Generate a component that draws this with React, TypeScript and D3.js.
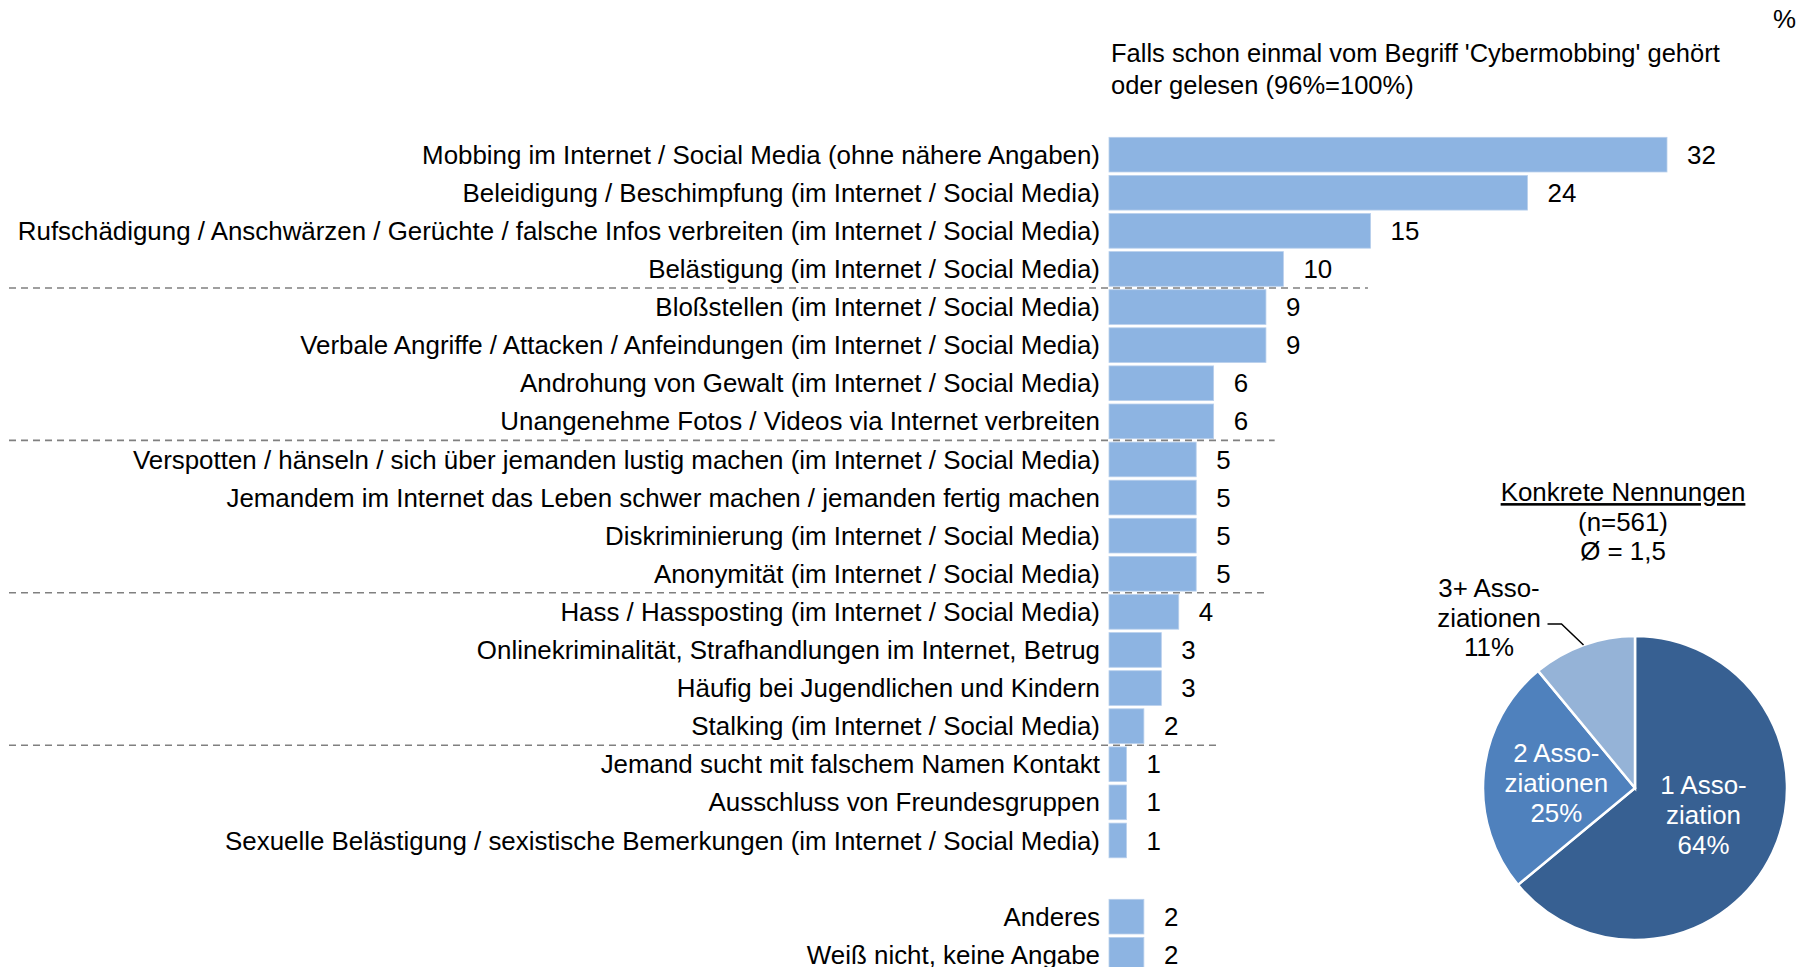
import React from 'react';
import * as d3 from 'd3';

// bar rows (top group), in the order shown
const rowLabels = [
  'Mobbing im Internet / Social Media (ohne nähere Angaben)',
  'Beleidigung / Beschimpfung (im Internet / Social Media)',
  'Rufschädigung / Anschwärzen / Gerüchte / falsche Infos verbreiten (im Internet / Social Media)',
  'Belästigung (im Internet / Social Media)',
  'Bloßstellen (im Internet / Social Media)',
  'Verbale Angriffe / Attacken / Anfeindungen (im Internet / Social Media)',
  'Androhung von Gewalt (im Internet / Social Media)',
  'Unangenehme Fotos / Videos via Internet verbreiten',
  'Verspotten / hänseln / sich über jemanden lustig machen (im Internet / Social Media)',
  'Jemandem im Internet das Leben schwer machen / jemanden fertig machen',
  'Diskriminierung (im Internet / Social Media)',
  'Anonymität (im Internet / Social Media)',
  'Hass / Hassposting (im Internet / Social Media)',
  'Onlinekriminalität, Strafhandlungen im Internet, Betrug',
  'Häufig bei Jugendlichen und Kindern',
  'Stalking (im Internet / Social Media)',
  'Jemand sucht mit falschem Namen Kontakt',
  'Ausschluss von Freundesgruppen',
  'Sexuelle Belästigung / sexistische Bemerkungen (im Internet / Social Media)',
];
const rowValues = [32, 24, 15, 10, 9, 9, 6, 6, 5, 5, 5, 5, 4, 3, 3, 2, 1, 1, 1];

const extraLabels = ['Anderes', 'Weiß nicht, keine Angabe'];
const extraValues = [2, 2];

// dashed separators: after which row, and how far (in % units) they reach
const separatorAfter = [3, 7, 11, 15];
const separatorReach = [14.85, 9.5, 9.05, 6.4];

const titleLines = ["Falls schon einmal vom Begriff 'Cybermobbing' gehört", 'oder gelesen (96%=100%)'];

const pieTitle = ['Konkrete Nennungen', '(n=561)', 'Ø = 1,5'];
const pieValues = [64, 25, 11];
const pieLabels = [
  ['1 Asso-', 'ziation', '64%'],
  ['2 Asso-', 'ziationen', '25%'],
  ['3+ Asso-', 'ziationen', '11%'],
];
const pieColors = ['#376092', '#4F81BD', '#95B3D7'];

const W = 1810;
const H = 967;
const FONT = '"Liberation Sans", Arial, sans-serif';
const FS = 25.9;

export default function App() {
  const allLabels = [...rowLabels, '__gap', ...extraLabels];
  const allValues = [...rowValues, 0, ...extraValues];

  const y = d3.scaleBand<string>()
    .domain(allLabels)
    .range([135.6, 135.6 + allLabels.length * 38.1])
    .paddingInner(0.09)
    .paddingOuter(0.045);

  const x = d3.scaleLinear().domain([0, 32]).range([1109, 1667]);

  const cx = 1635, cy = 788, R = 152;
  const pie = d3.pie<number>().sort(null).value(d => d);
  const arcs = pie(pieValues);
  const arc = d3.arc<d3.PieArcDatum<number>>().innerRadius(0).outerRadius(R);
  const labelArc = d3.arc<d3.PieArcDatum<number>>().innerRadius(R * 0.52).outerRadius(R * 0.52);
  const edgeArc = d3.arc<d3.PieArcDatum<number>>().innerRadius(R).outerRadius(R);

  const step = y.step();

  return (
    <svg width={W} height={H} style={{ position: 'absolute', left: 0, top: 0, display: 'block', background: '#fff' }}
      fontFamily={FONT} fontSize={FS}>
      <text x={1773} y={28} fill="#000">%</text>

      {titleLines.map((t, i) => (
        <text key={i} x={1111} y={62 + i * 32} fill="#000" fontSize={25.5}>{t}</text>
      ))}

      {allLabels.map((lab, i) => {
        if (lab === '__gap') return null;
        const yy = y(lab)!;
        const mid = yy + y.bandwidth() / 2;
        const v = allValues[i];
        return (
          <g key={lab}>
            <rect x={x(0)} y={yy} width={x(v) - x(0)} height={y.bandwidth()} fill="#8DB4E2" stroke="#B8CFEC" strokeWidth={0.8} />
            <text x={x(0) - 9} y={mid} dy="0.35em" textAnchor="end" fill="#000">{lab}</text>
            <text x={x(v) + 20} y={mid} dy="0.35em" fill="#000">{v}</text>
          </g>
        );
      })}

      {separatorAfter.map((idx, i) => {
        const yy = y(allLabels[idx])! + y.bandwidth() + (step - y.bandwidth()) / 2;
        return (
          <line key={i} x1={9} x2={x(separatorReach[i])} y1={yy} y2={yy}
            stroke="#808080" strokeWidth={1.6} strokeDasharray="7,5" />
        );
      })}

      {pieTitle.map((t, i) => (
        <text key={i} x={1623} y={492 + i * 29.5} dy="0.35em" textAnchor="middle" fill="#000"
          textDecoration={i === 0 ? 'underline' : undefined}>{t}</text>
      ))}

      <g transform={`translate(${cx},${cy})`}>
        {arcs.map((a, i) => (
          <path key={i} d={arc(a)!} fill={pieColors[i]} stroke="#fff" strokeWidth={2.5} />
        ))}
        {arcs.slice(0, 2).map((a, i) => {
          const [lx, ly] = labelArc.centroid(a);
          const shift = i === 0 ? -7 : 2;
          return (
            <text key={i} textAnchor="middle" fill="#fff">
              {pieLabels[i].map((t, j) => (
                <tspan key={j} x={lx - (i === 0 ? 3 : 0)} y={ly + shift + (j - 1) * 30} dy="0.35em">{t}</tspan>
              ))}
            </text>
          );
        })}
        {(() => {
          const a = arcs[2];
          const [ex, ey] = edgeArc.centroid(a);
          const elbowX = ex - 22, elbowY = ey - 21;
          return (
            <g>
              <polyline points={`${ex},${ey} ${elbowX},${elbowY} ${elbowX - 14},${elbowY}`} fill="none" stroke="#000" strokeWidth={1.5} />
              <text textAnchor="middle" fill="#000">
                {pieLabels[2].map((t, j) => (
                  <tspan key={j} x={-146} y={-200 + j * 29.5} dy="0.35em">{t}</tspan>
                ))}
              </text>
            </g>
          );
        })()}
      </g>
    </svg>
  );
}
